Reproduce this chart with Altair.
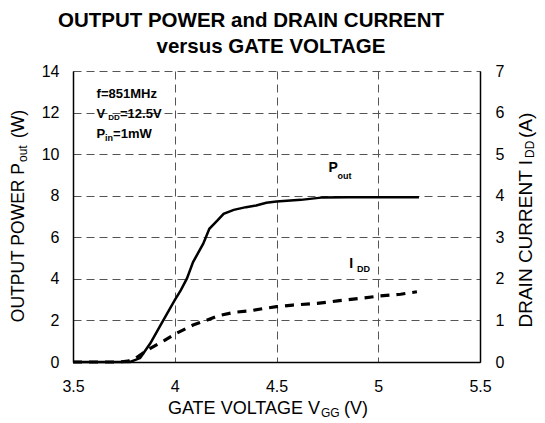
import altair as alt
import pandas as pd

FONT = "Liberation Sans"

# ---- data ----
vgg_p = [3.5, 3.78, 3.83, 3.88, 3.94, 4.0, 4.03, 4.06, 4.09, 4.14, 4.17, 4.21,
         4.24, 4.29, 4.35, 4.40, 4.45, 4.5, 4.62, 4.73, 4.85, 5.0, 5.2]
pout = [0, 0, 0.19, 0.9, 1.94, 2.98, 3.46, 4.02, 4.81, 5.69, 6.41, 6.81,
        7.13, 7.32, 7.45, 7.53, 7.66, 7.72, 7.8, 7.92, 7.93, 7.93, 7.93]

vgg_i = [3.5, 3.72, 3.77, 3.81, 3.88, 3.95, 4.0, 4.09, 4.16, 4.22, 4.3, 4.37,
         4.44, 4.5, 4.58, 4.7, 4.8, 4.91, 5.01, 5.11, 5.19]
idd = [0, 0, 0.02, 0.1, 0.33, 0.52, 0.67, 0.89, 1.01, 1.12, 1.2, 1.23,
       1.29, 1.33, 1.37, 1.41, 1.47, 1.53, 1.59, 1.63, 1.69]

x_ticks = [3.5, 4, 4.5, 5, 5.5]
left_ticks = [0, 2, 4, 6, 8, 10, 12, 14]
right_ticks = [0, 1, 2, 3, 4, 5, 6, 7]

title_lines = ["OUTPUT POWER and DRAIN CURRENT", "versus GATE VOLTAGE"]

W, H = 407, 291

df_p = pd.DataFrame({"vgg": vgg_p, "pout": pout})
df_i = pd.DataFrame({"vgg": vgg_i, "idd": idd})

xscale = alt.Scale(domain=[3.5, 5.5], nice=False, zero=False)
lscale = alt.Scale(domain=[0, 14], nice=False)
rscale = alt.Scale(domain=[0, 7], nice=False)

xaxis = alt.Axis(values=x_ticks, title=None, format="~g", grid=True,
                 gridDash=[8, 5], gridColor="#555555", gridWidth=1,
                 ticks=False, labelPadding=16, labelFlush=False,
                 labelFont=FONT, labelFontSize=16, labelColor="black",
                 domainColor="black", domainWidth=1.5)
laxis = alt.Axis(values=left_ticks, title=None, grid=True,
                 gridDash=[8, 5], gridColor="#555555", gridWidth=1,
                 ticks=False, labelPadding=14, labelFont=FONT,
                 labelFontSize=16, labelColor="black",
                 domainColor="black", domainWidth=1.5)
raxis = alt.Axis(values=right_ticks, title=None, grid=False, orient="right",
                 ticks=False, labelPadding=15, labelFont=FONT,
                 labelFontSize=16, labelColor="black",
                 domainColor="black", domainWidth=1.5)

pout_line = alt.Chart(df_p).mark_line(color="black", strokeWidth=2.5).encode(
    x=alt.X("vgg:Q", scale=xscale, axis=xaxis),
    y=alt.Y("pout:Q", scale=lscale, axis=laxis),
)

idd_line = alt.Chart(df_i).mark_line(color="black", strokeWidth=3.2,
                                     strokeDash=[9, 7]).encode(
    x=alt.X("vgg:Q", scale=xscale),
    y=alt.Y("idd:Q", scale=rscale, axis=raxis),
)


def dtext(t, xv, yv, size, bold=True):
    d = pd.DataFrame({"vgg": [xv], "pout": [yv], "t": [t]})
    return alt.Chart(d).mark_text(align="left", baseline="middle", font=FONT,
                                  fontSize=size,
                                  fontWeight="bold" if bold else "normal",
                                  color="black").encode(
        x=alt.X("vgg:Q"), y=alt.Y("pout:Q"), text="t:N")


def ptext(t, px, py, size, bold=False, align="left", baseline="alphabetic", angle=0):
    d = pd.DataFrame({"t": [t]})
    return alt.Chart(d).mark_text(align=align, baseline=baseline, font=FONT,
                                  fontSize=size, angle=angle,
                                  fontWeight="bold" if bold else "normal",
                                  color="black").encode(
        x=alt.value(px), y=alt.value(py), text="t:N")


annots = [
    dtext("f=851MHz", 3.616, 12.9, 13),
    dtext("V", 3.616, 11.92, 13), dtext("DD", 3.673, 11.73, 8), dtext("=12.5V", 3.731, 11.92, 13),
    dtext("P", 3.616, 10.95, 13), dtext("in", 3.657, 10.77, 9), dtext("=1mW", 3.697, 10.95, 13),
    dtext("P", 4.755, 9.34, 14), dtext("out", 4.80, 8.96, 9),
    dtext("I", 4.858, 4.70, 14), dtext("DD", 4.896, 4.46, 9),
]

texts = [
    ptext(title_lines[0], 178, -50, 20.5, bold=True, align="center", baseline="middle"),
    ptext(title_lines[1], 198, -24, 20.5, bold=True, align="center", baseline="middle"),
    # x axis title
    ptext("GATE VOLTAGE V", 247, 343, 18, align="right"),
    ptext("GG", 248, 346, 12),
    ptext("(V)", 271, 343, 18),
    # left axis title
    ptext("OUTPUT POWER P", -49, 92, 17.5, align="right", angle=270),
    ptext("out", -46, 91, 12, angle=270),
    ptext("(W)", -49, 67, 17.5, angle=270),
    # right axis title
    ptext("DRAIN CURRENT I", 459, 89, 19, align="right", angle=270),
    ptext("DD", 461, 87, 12, angle=270),
    ptext("(A)", 459, 67, 19, angle=270),
]

left = alt.layer(pout_line, *annots, *texts)
chart = alt.layer(left, idd_line).resolve_scale(y="independent").properties(
    width=W, height=H, autosize="none",
    padding={"left": 65, "top": 63, "right": 57, "bottom": 58},
).configure_view(stroke=None)

chart.save("out.html", embed_options={"renderer": "svg", "actions": False})
